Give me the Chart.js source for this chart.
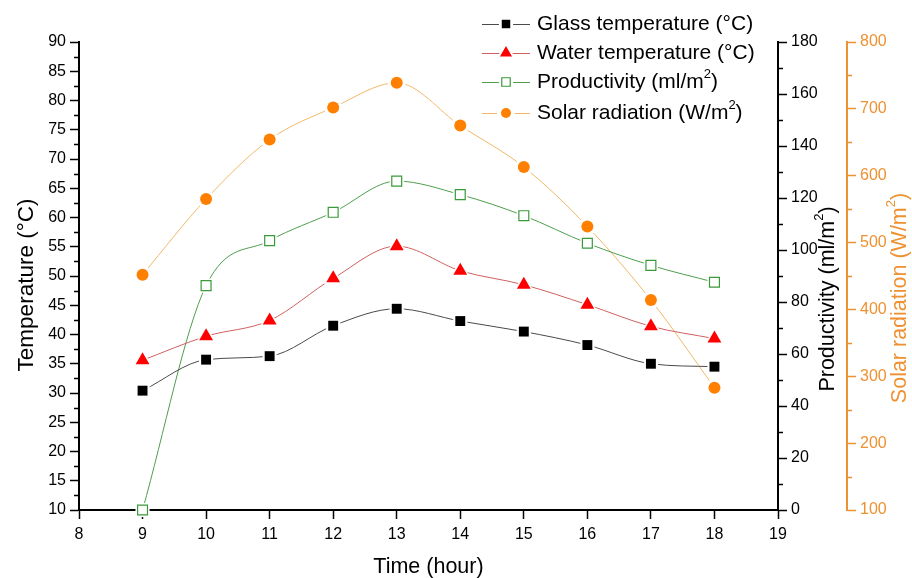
<!DOCTYPE html>
<html>
<head>
<meta charset="utf-8">
<script src="https://cdn.jsdelivr.net/npm/chart.js@4.4.1/dist/chart.umd.min.js"></script>
<style>
    html, body { margin: 0; padding: 0; background: #fff; }
    #wrap { width: 912px; height: 578px; }
</style>
</head>
<body>
<div id="wrap"><canvas id="chart" width="912" height="578"></canvas></div>
<script>
// ── Datos ─────────────────────────────────────────────────────────────────
const hours        = [9, 10, 11, 12, 13, 14, 15, 16, 17, 18];
const glassTemp    = [30.4, 35.7, 36.3, 41.5, 44.4, 42.3, 40.5, 38.2, 35.0, 34.5];
const waterTemp    = [35.6, 39.7, 42.4, 49.6, 55.1, 50.9, 48.5, 45.1, 41.4, 39.3];
const productivity = [0, 86.3, 103.6, 114.5, 126.5, 121.3, 113.2, 102.6, 94.1, 87.6];
const solarRad     = [452, 565, 654, 702, 739, 675, 613, 524, 414, 283];

const FONT   = "'Liberation Sans', Arial, sans-serif";
const ORANGE = '#EE9130';

const toXY = vals => hours.map((h, i) => ({ x: h, y: vals[i] }));

// ── Marcas menores en los ejes ────────────────────────────────────────────
const minorTicks = {
    id: 'minorTicks',
    afterDraw(chart) {
        const ctx = chart.ctx;
        const list = [['y', 2.5, '#000'], ['y1', 10, '#000'], ['y2', 50, ORANGE]];
        ctx.save();
        ctx.lineWidth = 1.5;
        list.forEach(([id, step, color]) => {
            const s = chart.scales[id];
            ctx.strokeStyle = color;
            for (let v = s.min + step; v < s.max; v += 2 * step) {
                const py = Math.round(s.getPixelForValue(v)) + 0.5;
                const x0 = s.position === 'left' ? s.right : s.left;
                const x1 = s.position === 'left' ? x0 - 5 : x0 + 5;
                ctx.beginPath(); ctx.moveTo(x0, py); ctx.lineTo(x1, py); ctx.stroke();
            }
        });
        ctx.restore();
    }
};

// ── Hueco blanco alrededor de cada marcador ───────────────────────────────
const markerGap = {
    id: 'markerGap',
    afterDatasetDraw(chart, args) {
        const ctx = chart.ctx;
        args.meta.data.forEach(pt => {
            const o = pt.options;
            ctx.save();
            ctx.fillStyle = '#fff';
            Chart.helpers.drawPoint(ctx, { pointStyle: o.pointStyle, radius: o.radius + 3, rotation: 0, borderWidth: 0 }, pt.x, pt.y);
            ctx.restore();
            pt.draw(ctx, chart.chartArea);
        });
    }
};

// ── Texto con superíndice "²" ─────────────────────────────────────────────
function richText(ctx, text, x, y, size, align) {
    const parts = text.split('²');
    const supFont = `${Math.round(size * 0.6)}px ${FONT}`;
    const mainFont = `${size}px ${FONT}`;
    let total = 0;
    parts.forEach((p, i) => {
        ctx.font = mainFont; total += ctx.measureText(p).width;
        if (i < parts.length - 1) { ctx.font = supFont; total += ctx.measureText('2').width; }
    });
    let cx = align === 'center' ? x - total / 2 : x;
    ctx.textAlign = 'left';
    ctx.textBaseline = 'middle';
    parts.forEach((p, i) => {
        ctx.font = mainFont; ctx.fillText(p, cx, y); cx += ctx.measureText(p).width;
        if (i < parts.length - 1) {
            ctx.font = supFont; ctx.fillText('2', cx, y - size * 0.38); cx += ctx.measureText('2').width;
        }
    });
}

// ── Leyenda y títulos de los ejes ─────────────────────────────────────────
const extras = {
    id: 'extras',
    afterDraw(chart) {
        const ctx = chart.ctx;
        const rows = [24, 53, 82, 113];
        chart.data.datasets.forEach((ds, i) => {
            const y = rows[i];
            ctx.save();
            ctx.strokeStyle = ds.borderColor;
            ctx.lineWidth = 1;
            ctx.beginPath(); ctx.moveTo(482, y + 0.5); ctx.lineTo(530, y + 0.5); ctx.stroke();
            ctx.fillStyle = '#fff';
            Chart.helpers.drawPoint(ctx, { pointStyle: ds.pointStyle, radius: ds.pointRadius + 3, rotation: 0, borderWidth: 0 }, 506, y);
            ctx.fillStyle = ds.pointBackgroundColor;
            ctx.strokeStyle = ds.pointBorderColor;
            ctx.lineWidth = ds.pointBorderWidth;
            Chart.helpers.drawPoint(ctx, { pointStyle: ds.pointStyle, radius: ds.pointRadius - 1, rotation: 0, borderWidth: ds.pointBorderWidth }, 506, y);
            ctx.fillStyle = '#000';
            richText(ctx, ds.label, 537, y, 21, 'left');
            ctx.restore();
        });

        const area = chart.chartArea;
        // Eje X
        ctx.save();
        ctx.fillStyle = '#000';
        richText(ctx, 'Time (hour)', (area.left + area.right) / 2, 567, 21.5, 'center');
        ctx.restore();

        // Ejes verticales (texto girado, de abajo hacia arriba)
        [
            [chart.scales.y.left + 27,   285, 'Temperature (°C)',      '#000', 22.5],
            [chart.scales.y1.right - 19, 299, 'Productivity (ml/m²)',  '#000', 21.5],
            [chart.scales.y2.right - 12, 298, 'Solar radiation (W/m²)', ORANGE, 21.5]
        ].forEach(([x, y, text, color, size]) => {
            ctx.save();
            ctx.translate(x, y);
            ctx.rotate(-Math.PI / 2);
            ctx.fillStyle = color;
            richText(ctx, text, 0, 0, size, 'center');
            ctx.restore();
        });
    }
};

// ── Configuración de ejes ────────────────────────────────────────────────
const tickFont = { family: FONT, size: 16 };
const axisGrid = color => ({ drawOnChartArea: false, tickLength: 9, tickColor: color, tickWidth: 1.5 });
const axisBorder = color => ({ color: color, width: 2 });

new Chart(document.getElementById('chart').getContext('2d'), {
    type: 'line',
    data: {
        datasets: [
            {
                label: 'Glass temperature (°C)', data: toXY(glassTemp), yAxisID: 'y',
                borderColor: '#4a4a4a', borderWidth: 1,
                pointStyle: 'rect', pointRadius: 7, pointBackgroundColor: '#000', pointBorderColor: '#000', pointBorderWidth: 0
            },
            {
                label: 'Water temperature (°C)', data: toXY(waterTemp), yAxisID: 'y',
                borderColor: '#D06060', borderWidth: 1,
                pointStyle: 'triangle', pointRadius: 8, pointBackgroundColor: '#FF0000', pointBorderColor: '#FF0000', pointBorderWidth: 0
            },
            {
                label: 'Productivity (ml/m²)', data: toXY(productivity), yAxisID: 'y1',
                borderColor: '#4E9E4E', borderWidth: 1,
                pointStyle: 'rect', pointRadius: 7, pointBackgroundColor: '#fff', pointBorderColor: '#3A9A3A', pointBorderWidth: 1.2
            },
            {
                label: 'Solar radiation (W/m²)', data: toXY(solarRad), yAxisID: 'y2',
                borderColor: '#F0B868', borderWidth: 1,
                pointStyle: 'circle', pointRadius: 6, pointBackgroundColor: '#FF8000', pointBorderColor: '#FF8000', pointBorderWidth: 0
            }
        ]
    },
    options: {
        responsive: false,
        animation: false,
        layout: { padding: { top: 42, left: 0, right: 0, bottom: 0 } },
        plugins: { legend: { display: false }, tooltip: { enabled: false } },
        elements: { line: { cubicInterpolationMode: 'monotone' } },
        scales: {
            x: {
                type: 'linear', min: 8, max: 19,
                ticks: { stepSize: 1, font: tickFont, color: '#000', padding: 6 },
                grid: axisGrid('#000'), border: axisBorder('#000'),
                afterFit: s => { s.height = 68; }
            },
            y: {
                position: 'left', min: 10, max: 90,
                ticks: { stepSize: 5, font: tickFont, color: '#000', padding: 4 },
                grid: axisGrid('#000'), border: axisBorder('#000'),
                afterFit: s => { s.width = 79; }
            },
            y1: {
                position: 'right', min: 0, max: 180,
                ticks: { stepSize: 20, font: tickFont, color: '#000', padding: 4 },
                grid: axisGrid('#000'), border: axisBorder('#000'),
                afterFit: s => { s.width = 69; }
            },
            y2: {
                position: 'right', min: 100, max: 800,
                ticks: { stepSize: 100, font: tickFont, color: ORANGE, padding: 4 },
                grid: axisGrid(ORANGE), border: axisBorder(ORANGE),
                afterFit: s => { s.width = 65; }
            }
        }
    },
    plugins: [minorTicks, markerGap, extras]
});
</script>
</body>
</html>
